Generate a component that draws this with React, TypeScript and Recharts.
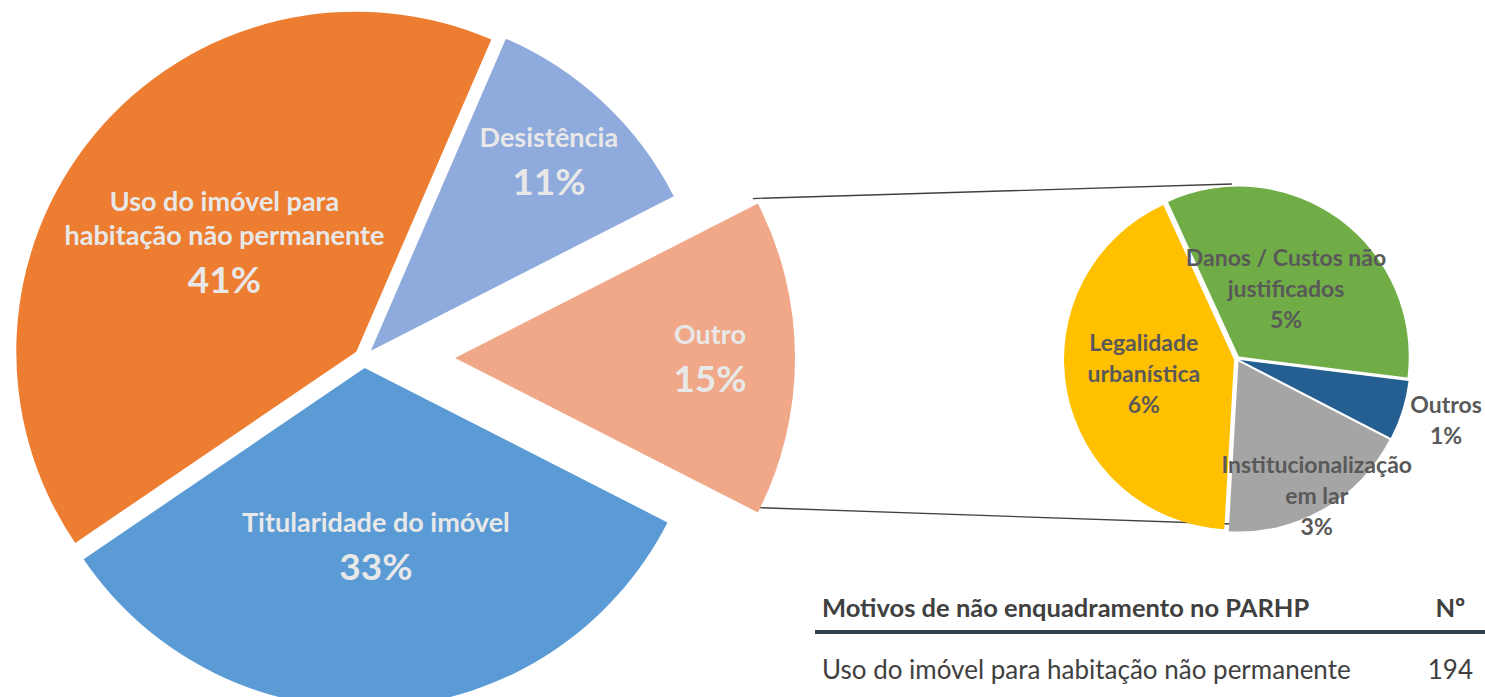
import React from 'react';
import { PieChart, Pie, Cell, Sector } from 'recharts';

// main pie, listed counter-clockwise starting with the aggregated slice
const mainNames = ['Outro', 'Desistência', 'Uso do imóvel para habitação não permanente', 'Titularidade do imóvel'];
const mainLabelLines = [['Outro'], ['Desistência'], ['Uso do imóvel para', 'habitação não permanente'], ['Titularidade do imóvel']];
const mainValues = [71, 52, 194, 156];
const mainColors = ['#F0A889', '#8FAADC', '#ED7D31', '#5B9BD5'];

// breakdown of "Outro"
const subNames = ['Institucionalização em lar', 'Outros', 'Danos / Custos não justificados', 'Legalidade urbanística'];
const subLabelLines = [['Institucionalização', 'em lar'], ['Outros'], ['Danos / Custos não', 'justificados'], ['Legalidade', 'urbanística']];
const subValues = [13, 4, 24, 30];
const subColors = ['#A5A5A5', '#255E91', '#70AD47', '#FFC000'];

const tableHeader = ['Motivos de não enquadramento no PARHP', 'Nº'];
const tableRowNames = ['Uso do imóvel para habitação não permanente'];

const W = 1485;
const H = 697;
const RAD = Math.PI / 180;
const TOTAL = mainValues.reduce((a, b) => a + b, 0);

const MAIN_CX = 359;
const MAIN_CY = 353;
const MAIN_R = 340;
const MAIN_EXPLODE = 10;
const AGG_EXPLODE = 91;
const MAIN_START = -((mainValues[0] / TOTAL) * 360) / 2;
const MAIN_LABEL_R = [0.75, 0.765, 0.503, 0.527];

const SUB_CX = 1232;
const SUB_CY = 354;
const SUB_R = 170;
const SUB_EXPLODE = 3;
const SUB_START = -93.3;
const SUB_LABEL_R = [0.93, 1.27, 0.47, 0.54];

const FONT = 'Lato, "Open Sans", sans-serif';

const mainData = mainNames.map((name, i) => ({ name, value: mainValues[i] }));
const subData = subNames.map((name, i) => ({ name, value: subValues[i] }));

const mainExplode = (i: number) => (i === 0 ? AGG_EXPLODE : MAIN_EXPLODE);

const pct = (v: number) => `${Math.round((v / TOTAL) * 100)}%`;

const makeShape = (names: string[], explode: (i: number) => number) => (props: any) => {
  const name = props.payload?.name ?? props.name;
  const i = names.indexOf(name);
  const e = explode(i);
  const a = props.midAngle * RAD;
  return <Sector {...props} cx={props.cx + e * Math.cos(a)} cy={props.cy - e * Math.sin(a)} />;
};

const renderMainLabel = (p: any) => {
  const i = p.index;
  const a = p.midAngle * RAD;
  const r = mainExplode(i) + MAIN_LABEL_R[i] * MAIN_R;
  const x = p.cx + r * Math.cos(a);
  const y = p.cy - r * Math.sin(a);
  const lines = mainLabelLines[i];
  const height = 19 + 34 * (lines.length - 1) + 48;
  const top = y - height / 2 + 19;
  return (
    <g key={`ml-${i}`}>
      <text x={x} y={top} textAnchor="middle" fill="#E8E8E8" fontFamily={FONT} fontWeight={700}>
        {lines.map((l, j) => (
          <tspan key={j} x={x} y={top + j * 34} fontSize={27}>{l}</tspan>
        ))}
        <tspan x={x} y={top + 34 * (lines.length - 1) + 48} fontSize={37}>{pct(mainValues[i])}</tspan>
      </text>
    </g>
  );
};

const renderSubLabel = (p: any) => {
  const i = p.index;
  const a = p.midAngle * RAD;
  const r = SUB_EXPLODE + SUB_LABEL_R[i] * SUB_R;
  const x = p.cx + r * Math.cos(a);
  const y = p.cy - r * Math.sin(a);
  const lines = subLabelLines[i];
  const height = 16 + 31 * lines.length;
  const top = y - height / 2 + 13;
  return (
    <g key={`sl-${i}`}>
      <text x={x} y={top} textAnchor="middle" fill="#595959" fontFamily={FONT} fontWeight={700} fontSize={23}>
        {lines.map((l, j) => (
          <tspan key={j} x={x} y={top + j * 31}>{l}</tspan>
        ))}
        <tspan x={x} y={top + 31 * lines.length}>{pct(subValues[i])}</tspan>
      </text>
    </g>
  );
};

// connector lines from the exploded "Outro" slice to top/bottom of the secondary pie
const Connectors = () => {
  const half = ((mainValues[0] / TOTAL) * 360) / 2;
  const ox = MAIN_CX + AGG_EXPLODE;
  const x1 = ox + MAIN_R * Math.cos(half * RAD);
  const yTop = MAIN_CY - MAIN_R * Math.sin(half * RAD);
  const yBot = MAIN_CY + MAIN_R * Math.sin(half * RAD);
  return (
    <svg width={W} height={H} style={{ position: 'absolute', left: 0, top: 0 }}>
      <line x1={x1} y1={yTop} x2={SUB_CX} y2={SUB_CY - SUB_R} stroke="#404040" strokeWidth={1.3} />
      <line x1={x1} y1={yBot} x2={SUB_CX} y2={SUB_CY + SUB_R} stroke="#404040" strokeWidth={1.3} />
    </svg>
  );
};

const App: React.FC = () => {
  return (
    <div style={{ position: 'absolute', left: 0, top: 0, width: W, height: H, background: '#fff', overflow: 'hidden' }}>
      <Connectors />
      <div style={{ position: 'absolute', left: 0, top: 0 }}>
        <PieChart width={W} height={H}>
          <Pie
            data={mainData}
            dataKey="value"
            nameKey="name"
            cx={MAIN_CX}
            cy={MAIN_CY}
            outerRadius={MAIN_R}
            startAngle={MAIN_START}
            endAngle={MAIN_START + 360}
            stroke="none"
            shape={makeShape(mainNames, mainExplode)}
            label={renderMainLabel}
            labelLine={false}
            isAnimationActive={false}
          >
            {mainData.map((d, i) => (
              <Cell key={d.name} fill={mainColors[i]} />
            ))}
          </Pie>
          <Pie
            data={subData}
            dataKey="value"
            nameKey="name"
            cx={SUB_CX}
            cy={SUB_CY}
            outerRadius={SUB_R}
            startAngle={SUB_START}
            endAngle={SUB_START + 360}
            stroke="none"
            shape={makeShape(subNames, () => SUB_EXPLODE)}
            label={renderSubLabel}
            labelLine={false}
            isAnimationActive={false}
          >
            {subData.map((d, i) => (
              <Cell key={d.name} fill={subColors[i]} />
            ))}
          </Pie>
        </PieChart>
      </div>
      <div style={{ position: 'absolute', left: 815, top: 588, width: 670, fontFamily: FONT, color: '#404040' }}>
        <div style={{ display: 'flex', height: 38, alignItems: 'center', fontWeight: 700, fontSize: 25.5 }}>
          <div style={{ width: 600, paddingLeft: 7 }}>{tableHeader[0]}</div>
          <div style={{ width: 70, textAlign: 'center' }}>{tableHeader[1]}</div>
        </div>
        <div style={{ height: 4, background: '#333F50', marginTop: 4 }} />
        <div style={{ display: 'flex', height: 70, alignItems: 'center', fontSize: 26 }}>
          {tableRowNames.map((n) => (
            <React.Fragment key={n}>
              <div style={{ width: 600, paddingLeft: 7 }}>{n}</div>
              <div style={{ width: 70, textAlign: 'center' }}>{mainValues[mainNames.indexOf(n)]}</div>
            </React.Fragment>
          ))}
        </div>
      </div>
    </div>
  );
};

export default App;
